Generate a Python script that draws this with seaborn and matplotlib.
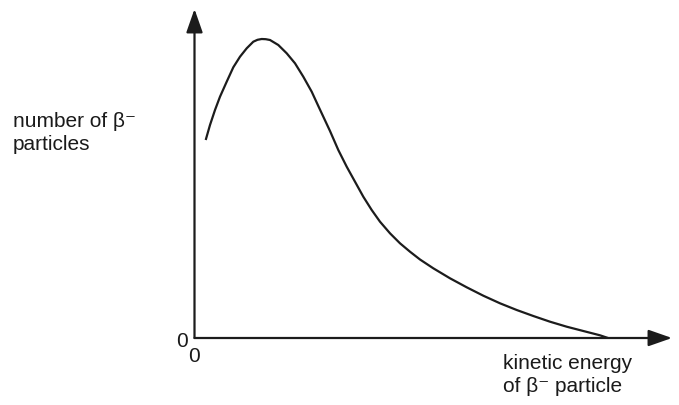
import matplotlib
matplotlib.use("Agg")
import matplotlib.pyplot as plt
import seaborn as sns

# curve (arbitrary units; x=kinetic energy, y=number of particles)
energy = [11.2, 15.5, 20.5, 25.5, 32.2, 38.8, 45.5, 52.2, 58.8, 63.0, 67.2,
          71.3, 75.5, 83.8, 92.2, 100.5, 108.8, 117.2, 123.8, 135.5, 143.8, 152.2,
          160.5, 168.8, 177.2, 185.5, 195.5, 205.5, 215.5, 225.5, 238.8, 255.5,
          272.2, 288.8, 305.5, 322.2, 338.8, 355.5, 372.2, 388.8, 405.5, 413.5]
count = [198, 213, 228, 241.3, 256.3, 270.7, 281.3, 289.7, 296.3, 298.2, 299,
         298.8, 298, 293, 284.7, 274.7, 261.3, 246.3, 232, 207, 188, 171.3,
         156.3, 141.3, 128, 116.3, 104.7, 94.7, 86.3, 78.5, 69.7, 59.7,
         50.7, 42.3, 34.7, 28, 22, 16.3, 11.3, 7, 2.7, 0]

y_label_lines = ["number of β⁻", "particles"]
x_label_lines = ["kinetic energy", "of β⁻ particle"]
zero_label = "0"

sns.set_theme(style="white")
plt.rcParams["font.family"] = ["Liberation Sans", "DejaVu Sans"]

W, H = 679, 405
fig = plt.figure(figsize=(W / 100, H / 100), dpi=100)
x0_px, x1_px = 194.5, 672
y0_px, y1_px = 338, 9
ax = fig.add_axes([x0_px / W, (H - y0_px) / H, (x1_px - x0_px) / W, (y0_px - y1_px) / H])
ax.set_xlim(0, x1_px - x0_px)
ax.set_ylim(0, y0_px - y1_px)
for s in ax.spines.values():
    s.set_visible(False)
ax.set_xticks([])
ax.set_yticks([])
ax.patch.set_alpha(0)

col = "#1c1c1c"
sns.lineplot(x=energy, y=count, sort=False, estimator=None, color=col, lw=1.6, ax=ax,
             solid_joinstyle="round", solid_capstyle="butt")

arrow = dict(arrowstyle="-|>,head_length=0.8,head_width=0.28", lw=1.6, color=col,
             shrinkA=0, shrinkB=0, mutation_scale=18)
ax.annotate("", xy=(1, 0), xytext=(0, 0), xycoords="axes fraction",
            textcoords="axes fraction", arrowprops=arrow, annotation_clip=False)
ax.annotate("", xy=(0, 1), xytext=(0, 0), xycoords="axes fraction",
            textcoords="axes fraction", arrowprops=arrow, annotation_clip=False)

fs = 15
tc = "#1a1a1a"
def px(x, y):
    return x / W, 1 - y / H

fig.text(*px(13, 127.3), y_label_lines[0], fontsize=fs, color=tc, va="baseline", ha="left")
fig.text(*px(13, 149.5), y_label_lines[1], fontsize=fs, color=tc, va="baseline", ha="left")
fig.text(*px(503, 369), x_label_lines[0], fontsize=fs, color=tc, va="baseline", ha="left")
fig.text(*px(503, 391.5), x_label_lines[1], fontsize=fs, color=tc, va="baseline", ha="left")
fig.text(*px(188, 347), zero_label, fontsize=fs, color=tc, va="baseline", ha="right")
fig.text(*px(194, 361.5), zero_label, fontsize=fs, color=tc, va="baseline", ha="center")

fig.savefig("out.png", dpi=100)
